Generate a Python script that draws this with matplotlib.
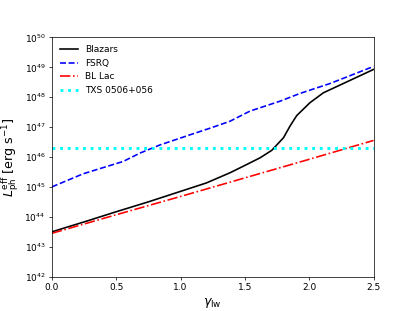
import matplotlib
matplotlib.use("Agg")
import matplotlib.pyplot as plt
import numpy as np

# values (log10 of L in erg/s)
gamma_blazars = [0.0, 0.25, 0.5, 0.75, 1.0, 1.2, 1.384, 1.488, 1.618, 1.709, 1.8, 1.851,
                 1.903, 2.006, 2.11, 2.265, 2.42, 2.5]
log_blazars = [43.5, 43.83, 44.17, 44.5, 44.85, 45.13, 45.47, 45.69, 45.97, 46.22, 46.64, 47.03,
               47.38, 47.81, 48.14, 48.45, 48.76, 48.92]

gamma_fsrq = [0.0, 0.245, 0.555, 0.686, 0.84, 1.075, 1.23, 1.384, 1.54, 1.773, 1.929, 2.162, 2.5]
log_fsrq = [45.0, 45.44, 45.85, 46.13, 46.40, 46.74, 46.96, 47.19, 47.53, 47.86, 48.12, 48.45, 49.02]

gamma_bllac = [0.0, 0.5, 1.0, 1.5, 2.0, 2.5]
log_bllac = [43.45, 44.07, 44.68, 45.3, 45.92, 46.55]

txs_level = 2e46

fig = plt.figure(figsize=(6.4, 4.8), dpi=64.85)
ax = fig.add_subplot(111)

ax.plot(gamma_blazars, 10**np.array(log_blazars), color='k', lw=1.8, label='Blazars')
ax.plot(gamma_fsrq, 10**np.array(log_fsrq), color='b', ls='--', lw=1.8, label='FSRQ')
ax.plot(gamma_bllac, 10**np.array(log_bllac), color='r', ls='-.', lw=1.8, label='BL Lac')
ax.axhline(txs_level, color='cyan', ls=':', lw=3.2, label='TXS 0506+056')

ax.set_yscale('log')
ax.set_xlim(0, 2.5)
ax.set_ylim(1e42, 1e50)
ax.set_yticks([10.0**k for k in range(42, 51)])
ax.minorticks_off()
ax.set_xlabel(r'$\gamma_{\rm lw}$', fontsize=14)
ax.set_ylabel(r'$L_{\rm ph}^{\rm eff}$ [erg s$^{-1}$]', fontsize=14)
ax.legend(loc='upper left', frameon=False)

fig.savefig('out.png', dpi=64.85)
